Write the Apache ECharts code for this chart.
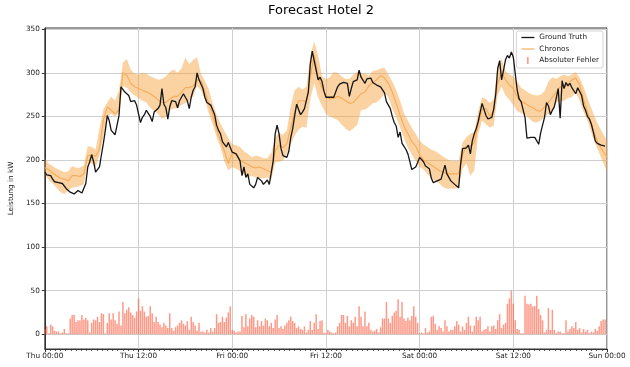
<!DOCTYPE html>
<html>
<head>
<meta charset="utf-8">
<script src="https://cdn.jsdelivr.net/npm/echarts@6/dist/echarts.min.js"></script>
<style>
html,body{margin:0;padding:0;background:#fff;}
#chart{width:630px;height:367px;}
</style>
</head>
<body>
<div id="chart"></div>
<script>
// ---- data (15-min steps from Thu 00:00) ----
const xTickLabels = ['Thu 00:00','Thu 12:00','Fri 00:00','Fri 12:00','Sat 00:00','Sat 12:00','Sun 00:00'];
const yTicks = [0, 50, 100, 150, 200, 250, 300, 350];

// Ground Truth, 15-minute values
const groundTruth = [
  186,183,181,182, 178,175,175,174, 175,173,173,167, 168,163,162,161, 163,165,165,162, 161,173,192,198,
  206,198,186,188, 192,206,219,234, 251,245,234,233, 229,240,251,284, 282,278,279,274, 267,267,268,263,
  261,243,249,252, 257,258,250,244, 255,257,259,263, 282,264,260,247, 261,268,268,267, 260,268,272,276,
  278,268,259,272, 280,284,300,292, 290,282,272,266, 265,263,262,252, 240,234,230,221, 218,215,220,218,
  209,207,207,205, 199,182,192,180, 184,172,170,168, 172,180,181,176, 172,172,177,172, 172,199,230,240,
  230,213,205,203, 203,210,226,236, 251,264,264,252, 255,259,260,278, 310,325,326,303, 292,295,290,279,
  272,271,272,273, 272,278,284,287, 289,289,291,288, 273,282,290,290, 292,303,295,296, 288,293,293,294,
  289,290,286,286, 284,283,277,267, 268,259,250,243, 239,226,232,219, 217,212,207,198, 189,190,192,197,
  203,201,198,193, 195,190,179,174, 174,176,174,178, 186,194,184,180, 176,174,172,171, 168,195,213,214,
  214,217,207,222, 230,236,244,245, 265,265,251,247, 245,249,259,276, 305,314,292,303, 315,320,317,324,
  318,299,280,270, 267,268,249,225, 227,226,228,226, 226,218,231,231, 249,266,262,252, 257,261,271,282,
  248,291,282,289, 285,288,283,285, 276,283,284,274, 262,257,250,247, 241,232,222,219, 218,217,215,216
];

// Chronos median / lower / upper, 30-minute values
const chronosMedian = [
  191,189,185,182,179,178,176,182,182,181,184,205,
  206,204,212,246,261,257,253,258,300,297,288,284,
  282,280,278,276,273,269,266,266,270,273,273,278,
  283,283,285,292,291,278,265,252,235,222,210,196,
  208,207,200,197,195,192,191,192,190,188,186,210,
  217,214,219,237,255,268,268,267,295,320,296,282,
  274,270,271,273,271,268,265,266,271,276,278,285,
  289,292,297,294,288,278,265,251,239,230,221,216,
  206,200,197,194,191,188,186,184,184,184,184,206,
  216,216,220,241,258,259,250,256,288,300,292,286,
  282,272,267,265,262,260,257,256,261,266,272,278,
  284,284,287,292,294,286,269,255,241,228,217,210,
  203
];
const chronosUpper = [
  201,196,193,190,188,186,187,193,191,191,194,216,
  215,212,236,258,266,273,268,280,312,316,304,299,
  298,300,299,296,294,292,293,296,301,304,300,305,
  318,310,315,318,299,291,281,265,252,242,233,225,
  218,217,215,210,207,203,205,204,202,202,208,226,
  231,229,234,262,280,284,281,284,320,336,320,296,
  293,295,301,300,296,293,293,298,301,300,299,297,
  302,303,305,306,298,290,280,268,254,245,237,230,
  222,218,215,212,210,207,204,201,199,199,199,220,
  226,230,232,256,272,270,265,270,308,316,302,298,
  296,290,283,280,277,275,274,275,279,290,295,293,
  296,298,296,298,301,294,284,271,259,248,238,230,
  222
];
const chronosLower = [
  184,177,173,168,163,161,165,168,169,170,172,197,
  196,192,205,227,250,253,250,254,285,283,278,274,
  271,268,266,260,256,253,247,250,257,259,259,263,
  265,268,273,285,280,270,253,241,226,215,198,188,
  192,190,187,183,180,182,180,179,179,180,177,197,
  198,199,207,218,228,235,238,237,270,288,272,262,
  253,250,248,246,241,236,233,236,240,257,258,261,
  265,266,270,277,272,259,249,237,225,214,206,199,
  192,189,184,179,176,173,169,167,167,167,169,190,
  196,182,188,230,245,241,237,240,275,284,274,269,
  263,256,254,252,248,244,243,245,249,253,256,266,
  267,268,271,272,278,268,255,245,231,219,208,197,
  187
];

// Absolute error, 15-minute values
const absError = [
  6,9,1,11,9,4,3,3,1,2,6,1,
  1,18,22,22,14,16,16,22,17,19,16,2,
  13,17,16,20,14,24,23,1,13,24,17,24,
  16,12,26,10,37,24,28,31,25,22,19,26,
  41,27,32,26,20,21,32,24,14,20,14,11,
  8,13,10,7,24,7,4,8,10,13,16,12,
  10,15,5,20,14,10,4,13,3,3,2,5,
  2,7,3,7,23,13,14,20,14,19,25,32,
  5,4,2,3,3,21,8,23,9,18,22,20,
  8,16,9,15,10,18,16,9,13,7,17,22,
  7,9,6,10,13,16,20,15,13,7,9,6,
  5,9,2,5,15,5,13,23,6,15,16,2,
  1,5,3,2,1,2,9,13,22,22,13,21,
  9,16,13,20,9,32,20,9,26,9,13,5,
  3,4,6,2,8,18,18,37,18,13,21,25,
  27,40,20,37,18,15,19,16,21,32,20,13,
  1,2,1,7,2,3,20,21,12,5,9,7,
  3,16,9,3,5,5,9,15,11,3,9,5,
  13,20,10,3,10,20,16,20,3,5,6,9,
  3,9,10,6,16,23,7,11,13,35,41,50,
  35,16,6,5,1,1,44,35,34,35,32,32,
  44,29,22,16,2,5,30,5,28,5,1,3,
  3,1,1,16,3,6,9,7,14,5,7,2,
  6,3,5,1,3,2,6,4,9,15,17,17
];

// ---- build series data (x in hours since Thu 00:00) ----
const gtData = groundTruth.map((v, i) => [i * 0.25, v]);
const errData = absError.map((v, i) => [i * 0.25, v]);
const medData = chronosMedian.map((v, i) => [i * 0.5, v]);
const bandRows = chronosLower.map((v, i) => [i * 0.5, v, chronosUpper[i]]);

const FONT = 'DejaVu Sans';
const LINE_ICON = 'path://M0,0 M13,8 M0,3.35 L13,3.35 L13,4.65 L0,4.65 Z';
const BAR_ICON = 'path://M0,0 M13,8 M5.8,0.5 L7.2,0.5 L7.2,7.5 L5.8,7.5 Z';

const chart = echarts.init(document.getElementById('chart'), null, {renderer: 'canvas'});
chart.setOption({
  animation: false,
  backgroundColor: '#ffffff',
  title: {
    text: 'Forecast Hotel 2',
    left: 321, top: 4, textAlign: 'center', padding: 0,
    textStyle: {fontFamily: FONT, fontSize: 13, fontWeight: 'normal', color: '#000'}
  },
  grid: {
    left: 35, right: 23, top: 28, bottom: 18,
    show: true, borderColor: '#333', borderWidth: 1, backgroundColor: 'transparent',
    containLabel: false
  },
  legend: {
    orient: 'vertical', right: 27, top: 31,
    backgroundColor: '#fff', borderColor: '#d4d4d4', borderWidth: 1, borderRadius: 2,
    padding: [1, 4, 2, 5],
    itemWidth: 13, itemHeight: 8, itemGap: 0.5,
    selectedMode: false,
    textStyle: {fontFamily: FONT, fontSize: 7.3, color: '#222', lineHeight: 11},
    data: [
      {name: 'Ground Truth', icon: LINE_ICON, itemStyle: {color: '#151515', borderWidth: 0}},
      {name: 'Chronos', icon: LINE_ICON, itemStyle: {color: '#f9b66c', borderWidth: 0}},
      {name: 'Absoluter Fehler', icon: BAR_ICON, itemStyle: {color: 'rgba(255,99,71,0.75)', borderWidth: 0}}
    ]
  },
  xAxis: {
    type: 'value', min: 0, max: 72, interval: 12,
    axisLine: {show: true, onZero: false, lineStyle: {color: '#333', width: 1}},
    axisTick: {show: true, length: 3, lineStyle: {color: '#333'}},
    minorTick: {show: true, splitNumber: 18, length: 1.8, lineStyle: {color: '#333'}},
    splitLine: {show: true, lineStyle: {color: '#cfcfcf', width: 1}},
    axisLabel: {
      fontFamily: FONT, fontSize: 7.3, color: '#222', margin: 4,
      showMinLabel: true, showMaxLabel: true, hideOverlap: false,
      formatter: v => xTickLabels[Math.round(v / 12)] || ''
    }
  },
  yAxis: {
    type: 'value', min: -17, max: 351.5,
    name: 'Leistung in kW', nameLocation: 'middle', nameGap: 22, nameRotate: 90,
    nameTextStyle: {fontFamily: FONT, fontSize: 7.3, color: '#222'},
    axisLine: {show: true, onZero: false, lineStyle: {color: '#333', width: 1}},
    axisTick: {show: true, length: 3, lineStyle: {color: '#333'}, customValues: yTicks},
    splitLine: {show: true, lineStyle: {color: '#cfcfcf', width: 1}},
    axisLabel: {fontFamily: FONT, fontSize: 7.3, color: '#222', margin: 5, customValues: yTicks}
  },
  series: [
    {
      name: 'band', type: 'custom', data: bandRows, silent: true, z: 1,
      encode: {x: 0, y: [1, 2]},
      renderItem: function (params, api) {
        if (params.dataIndex !== 0) return null;
        const pts = [];
        for (let i = 0; i < bandRows.length; i++) pts.push(api.coord([bandRows[i][0], bandRows[i][2]]));
        for (let i = bandRows.length - 1; i >= 0; i--) pts.push(api.coord([bandRows[i][0], bandRows[i][1]]));
        return {
          type: 'polygon', shape: {points: pts},
          style: {fill: 'rgba(246,158,52,0.45)', stroke: null}
        };
      }
    },
    {
      name: 'Absoluter Fehler', type: 'bar', data: errData, barWidth: 1.5,
      itemStyle: {color: 'rgba(255,99,71,0.65)'}, silent: true, z: 2
    },
    {
      name: 'Chronos', type: 'line', data: medData, symbol: 'none', silent: true,
      color: '#f7ad5c', lineStyle: {color: '#f7ad5c', width: 1.2}, z: 3
    },
    {
      name: 'Ground Truth', type: 'line', data: gtData, symbol: 'none', silent: true,
      color: '#151515', lineStyle: {color: '#151515', width: 1.3}, z: 4
    }
  ]
});
</script>
</body>
</html>
